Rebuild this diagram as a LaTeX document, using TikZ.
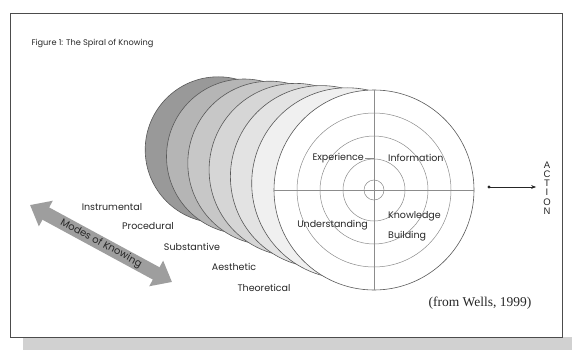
\documentclass[tikz,border=0pt]{standalone}
\usepackage{fontspec}
\setmainfont{Liberation Serif}
\setsansfont{Poppins}
\newfontfamily\capsfont{Liberation Sans}
\usetikzlibrary{arrows.meta, positioning, calc}
\definecolor{FrameGray}{rgb}{0.30, 0.30, 0.30}
\definecolor{RimGray}{rgb}{0.35, 0.35, 0.35}
\definecolor{RingGray}{rgb}{0.55, 0.55, 0.55}
\definecolor{ShadowGray}{rgb}{0.82, 0.82, 0.82}
\definecolor{ArrowGray}{rgb}{0.62, 0.62, 0.62}
\definecolor{InkGray}{rgb}{0.15, 0.15, 0.15}

\begin{document}
\begin{tikzpicture}[
    x=1pt, y=-1pt,
    font=\sffamily,
    lbl/.style={text=InkGray, inner sep=1pt,
        font=\sffamily\fontsize{9.5}{10}\selectfont},
    disc/.style={circle, draw=RimGray, line width=0.6pt, inner sep=0pt},
    ring/.style={draw=RingGray, line width=0.5pt},
    flow/.style={-{Stealth[length=5pt]}, line width=0.6pt, InkGray},
]
\useasboundingbox (0,0) rectangle (572,350);

% marco
\fill[ShadowGray] (23,337) rectangle (572,350);
\draw[FrameGray, line width=0.8pt] (10,13) rectangle (562,337);
\node[anchor=west, text=InkGray, font=\sffamily\fontsize{8.2}{9}\selectfont]
    (title) at (28,43) {Figure 1: The Spiral of Knowing};

% discos de la espiral
\foreach \k/\shade in {6/40,5/29,4/22,3/16,2/11,1/6} {
    \pgfmathsetmacro\rad{100-4.5*\k}
    \pgfmathsetmacro\cx{273-21.3*\k+\rad}
    \pgfmathsetmacro\cy{90-2.2*\k+\rad}
    \node[disc, fill=black!\shade, minimum size=2*\rad pt] (d\k) at (\cx,\cy) {};
}
\node[disc, fill=white, minimum size=200pt] (front) at (374,190) {};

% anillos y ejes
\foreach \r in {10,31,54,77} \draw[ring] (front.center) circle[radius=\r];
\draw[ring] (front.west) -- (front.east);
\draw[ring] (front.north) -- (front.south);

% cuadrantes
\node[lbl, anchor=east] (exp) at (365,158) {Experience};
\node[lbl, anchor=west] (inf) at (387,158) {Information};
\draw[ring] (exp.east) -- (exp.east -| front.center);
\node[lbl, anchor=east] (und) at (369,225) {Understanding};
\node[lbl, anchor=north west, align=left,
      font=\sffamily\fontsize{9.5}{20}\selectfont] (kb) at (387,210)
    {Knowledge\\Building};

% modos de conocer
\node[lbl] (instr) at (112,207) {Instrumental};
\node[lbl] (proc)  at (148,226) {Procedural};
\node[lbl] (subst) at (192,247) {Substantive};
\node[lbl] (aest)  at (234,267) {Aesthetic};
\node[lbl] (theo)  at (264,288) {Theoretical};

\coordinate (mk1) at (30,205);
\coordinate (mk2) at (172,282);
\draw[ArrowGray, line width=14pt,
      {Triangle[length=18pt,width=28pt]}-{Triangle[length=18pt,width=28pt]}]
    (mk1) -- (mk2)
    node[midway, sloped, text=InkGray, font=\sffamily\fontsize{10}{11}\selectfont]
    (modes) {Modes of Knowing};

% accion
\node[text=InkGray, align=center, inner sep=1pt,
      font=\capsfont\fontsize{9.5}{9.2}\selectfont] (action) at (547,188)
    {A\\C\\T\\I\\O\\N};
\coordinate (dot) at (489,187);
\fill[InkGray] (dot) circle[radius=1.6];
\draw[flow, shorten >=6pt] (dot) -- (dot -| action.west);

\node[text=InkGray, font=\rmfamily\fontsize{13.5}{15}\selectfont]
    (src) at (480,303) {(from Wells, 1999)};

\end{tikzpicture}
\end{document}
